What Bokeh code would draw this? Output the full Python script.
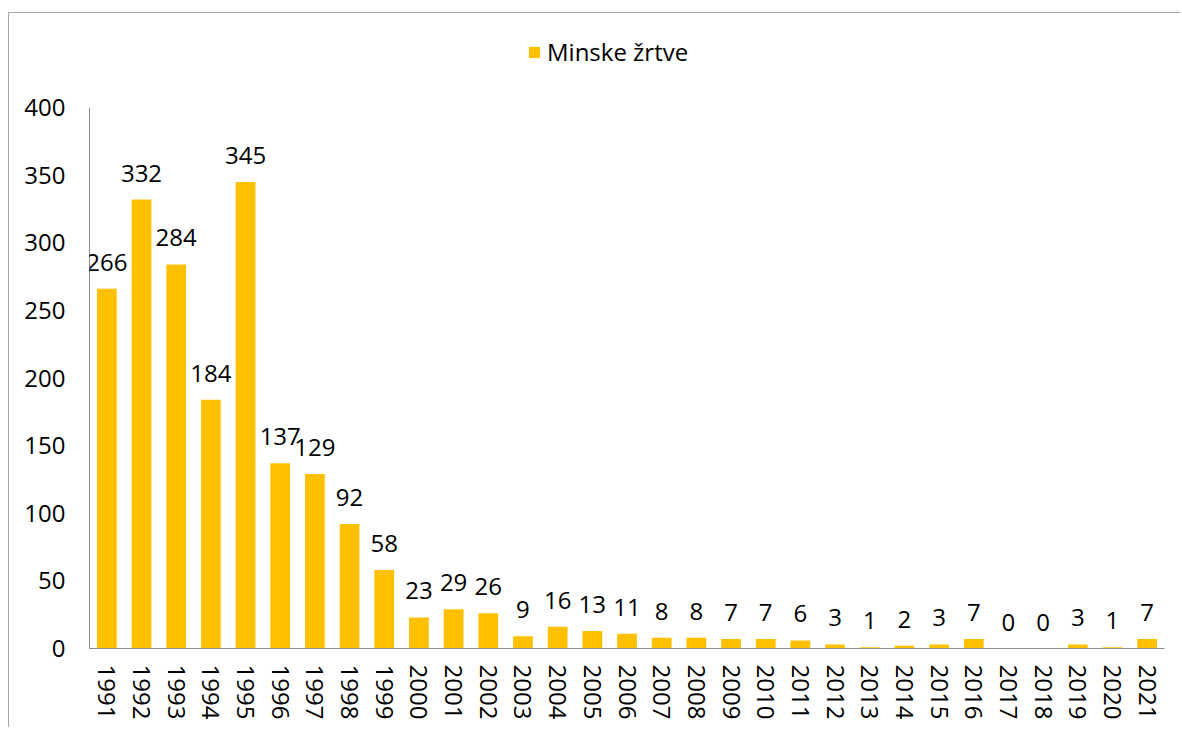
from bokeh.plotting import figure
from bokeh.models import (ColumnDataSource, FactorRange, Range1d, LabelSet, Legend,
                          LegendItem, FixedTicker)
from bokeh.core.properties import value
from bokeh.embed import file_html
from bokeh.resources import INLINE

years = [str(y) for y in range(1991, 2022)]
victims = [266, 332, 284, 184, 345, 137, 129, 92, 58, 23, 29, 26, 9, 16, 13, 11,
           8, 8, 7, 7, 6, 3, 1, 2, 3, 7, 0, 0, 3, 1, 7]
y_ticks = [0, 50, 100, 150, 200, 250, 300, 350, 400]
series_name = "Minske žrtve"

FONT = "Open Sans"
BAR = "#FFC000"
FS = "24px"

src = ColumnDataSource(dict(year=years, val=victims, lab=[str(v) for v in victims]))

# canvas starts at (9.5, 13.5) on the page after CSS margin + border.
# The frame is extended above the axis (which stops at 400) to hold the legend.
p = figure(x_range=FactorRange(*years, range_padding=0), y_range=Range1d(0, 460),
           width=1172, height=715, output_backend="svg", toolbar_location=None,
           min_border_left=80, min_border_right=17, min_border_top=13, min_border_bottom=80)
p.styles = {"margin-left": "8px", "margin-top": "12px",
            "border-left": "1.5px solid #a6a6a6", "border-top": "1.5px solid #a6a6a6"}
p.outline_line_color = None
p.grid.visible = False
p.background_fill_color = "white"
p.border_fill_color = "white"

r = p.vbar(x="year", top="val", width=0.57, source=src, fill_color=BAR, line_color=None)

p.yaxis.ticker = FixedTicker(ticks=y_ticks)
p.yaxis.bounds = (0, 400)
for ax in (p.xaxis[0], p.yaxis[0]):
    ax.axis_line_color = "#8c8c8c"
    ax.axis_line_width = 1
    ax.major_tick_line_color = None
    ax.minor_tick_line_color = None
    ax.major_tick_out = 0
    ax.major_tick_in = 0
    ax.major_label_text_font = FONT
    ax.major_label_text_font_size = FS
    ax.major_label_text_color = "#000000"
p.yaxis.major_label_standoff = 24
p.xaxis.major_label_orientation = "vertical"
p.xaxis.major_label_standoff = 16
p.xaxis.group_text_font_size = "0px"

labels = LabelSet(x="year", y="val", text="lab", source=src, y_offset=18,
                  text_align="center", text_baseline="alphabetic",
                  text_font=value(FONT), text_font_size=value(FS), text_color="#000000")
p.add_layout(labels)

legend = Legend(items=[LegendItem(label=series_name, renderers=[r])],
                location=(438, 580), orientation="horizontal",
                glyph_width=14, glyph_height=14, label_standoff=6,
                label_text_font=FONT, label_text_font_size=FS,
                label_text_color="#000000", border_line_color=None,
                background_fill_alpha=0, padding=0, margin=0)
p.add_layout(legend, "center")

open("out.html", "w").write(file_html(p, INLINE))
